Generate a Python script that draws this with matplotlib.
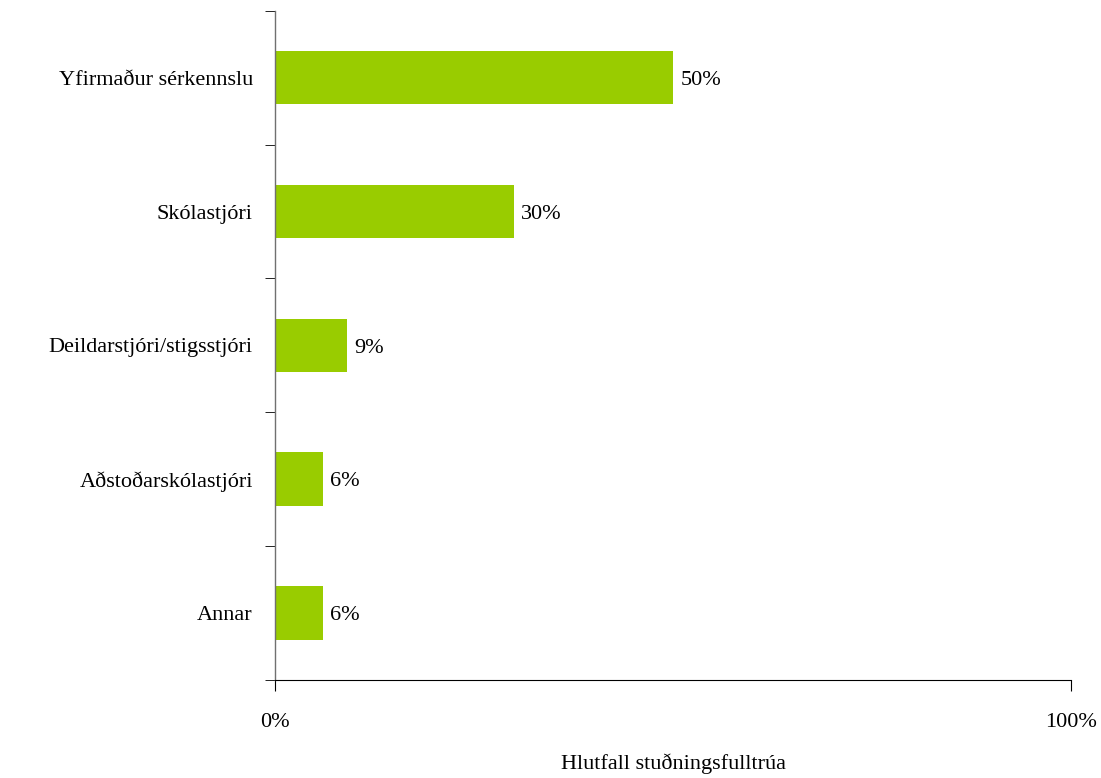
import numpy as np
import matplotlib.pyplot as plt
from matplotlib.ticker import FixedLocator

plt.rcParams['font.family'] = ['Liberation Serif', 'DejaVu Serif']

# gögn
categories = ['Yfirmaður sérkennslu', 'Skólastjóri', 'Deildarstjóri/stigsstjóri',
              'Aðstoðarskólastjóri', 'Annar']
values = [50, 30, 9, 6, 6]
bar_color = '#99CC00'

fig = plt.figure(figsize=(11.01, 7.78), dpi=100)
ax = fig.add_axes([0.2498, 0.126, 0.7230, 0.8601])

y = np.arange(len(categories))
ax.barh(y, values, height=0.4, color=bar_color, zorder=2)

for yi, v in zip(y, values):
    ax.text(v + 0.9, yi + 0.02, f'{v}%', va='center', ha='left', fontsize=16)

ax.set_xlim(0, 100)
ax.set_ylim(len(categories) - 0.5, -0.5)

# flokkaheiti án strika, strik á mörkum flokka
ax.set_yticks(y)
ax.set_yticklabels(categories, fontsize=16)
ax.tick_params(axis='y', which='major', length=0, pad=16)
ax.yaxis.set_minor_locator(FixedLocator(np.arange(-0.5, len(categories), 1)))
ax.tick_params(axis='y', which='minor', length=7, direction='out', color='black')

ax.set_xticks([0, 100])
ax.set_xticklabels(['0%', '100%'], fontsize=16)
ax.tick_params(axis='x', length=8, direction='out', pad=16)
ax.set_xlabel('Hlutfall stuðningsfulltrúa', fontsize=16, labelpad=15)

ax.spines['top'].set_visible(False)
ax.spines['right'].set_visible(False)
ax.spines['left'].set_color('#707070')
ax.spines['left'].set_linewidth(1.0)
ax.spines['bottom'].set_color('black')

fig.savefig('out.png', dpi=100)
